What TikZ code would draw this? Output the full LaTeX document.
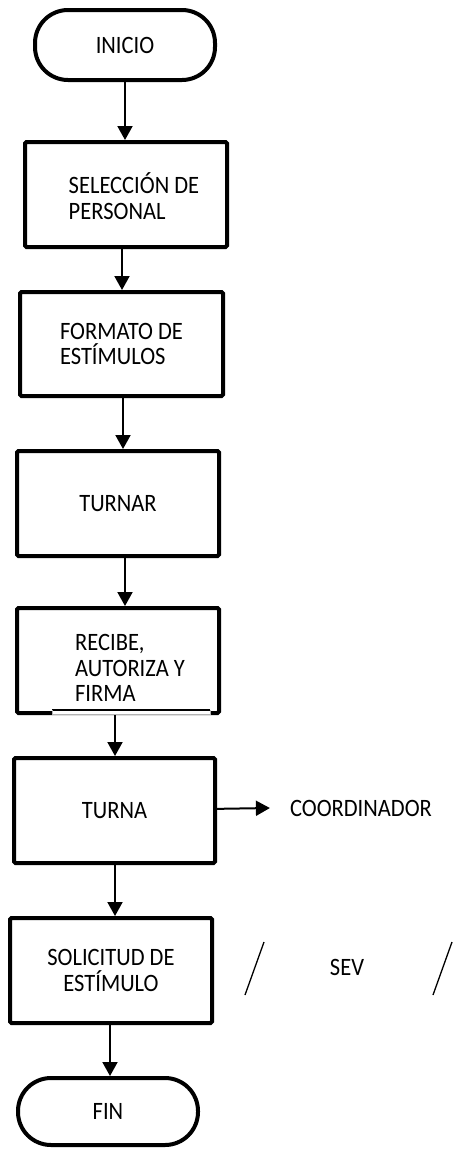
\documentclass[tikz,border=0pt]{standalone}
\usepackage{fontspec}
\setmainfont{Carlito}[FakeStretch=0.9]
\usetikzlibrary{arrows.meta}
\tikzset{
  boxstyle/.style={draw, line width=4pt, rounded corners=1.5pt, inner sep=0pt, align=left,
    font=\fontsize{25}{25.5}\selectfont},
  termstyle/.style={draw, line width=4pt, rounded corners=33pt, inner sep=0pt,
    font=\fontsize{25}{25.5}\selectfont},
  txtstyle/.style={inner sep=0pt, font=\fontsize{25}{25.5}\selectfont, align=left},
  arr/.style={line width=2pt, -{Triangle[length=14pt,width=15pt]}},
  slashstyle/.style={line width=1.3pt}
}
\begin{document}
\begin{tikzpicture}[x=1pt,y=-1pt]
\useasboundingbox (0,0) rectangle (454,1149);
\node[termstyle, minimum width=180pt, minimum height=70pt] (inicio) at (125,45) {INICIO};
\node[boxstyle, minimum width=202pt, minimum height=105pt] (sel) at (126,194.5) {};
\node[txtstyle] (selt) at (134,196) {SELECCIÓN DE\\PERSONAL};
\node[boxstyle, minimum width=203pt, minimum height=104pt] (form) at (121.5,344) {FORMATO DE\\ESTÍMULOS};
\node[boxstyle, minimum width=202pt, minimum height=105pt] (turnar) at (118,503.5) {TURNAR};
\node[boxstyle, minimum width=202pt, minimum height=105pt] (recibe) at (118,660.5) {};
\node[txtstyle] (recibet) at (130,668) {RECIBE,\\AUTORIZA Y\\FIRMA};
\node[boxstyle, minimum width=201pt, minimum height=105pt] (turna) at (114.5,810.5) {TURNA};
\node[txtstyle, inner xsep=20pt] (coord) at (361,808) {COORDINADOR};
\node[boxstyle, minimum width=202pt, minimum height=105pt, align=center] (sol) at (111,970.5) {SOLICITUD DE\\ESTÍMULO};
\node[txtstyle] (sev) at (347,967) {SEV};
\node[termstyle, minimum width=180pt, minimum height=67pt] (fin) at (108,1111.5) {FIN};
% odd bottom edge of RECIBE box
\fill[white] (52,709) rectangle (210,715);
\draw[line width=1.5pt] (52,710) -- (210,710);
\draw[line width=0.5pt, gray!60] (52,710) -- (52,714.5) -- (210,714.5) -- (210,710);
% connectors
\draw[arr] (inicio) -- (inicio |- sel.north);
\draw[arr] (sel.south -| 122,0) -- (form.north -| 122,0);
\draw[arr] (form.south -| 123,0) -- (turnar.north -| 123,0);
\draw[arr] (turnar.south -| 125,0) -- (recibe.north -| 125,0);
\draw[arr] (recibe.south -| 115,0) -- (turna.north -| 115,0);
\draw[arr] (turna) -- (coord.west);
\draw[arr] (turna.south -| 115,0) -- (sol.north -| 115,0);
\draw[arr] (sol.south -| 110,0) -- (fin.north -| 110,0);
% slashes
\draw[slashstyle] (264,942) -- (245,995);
\draw[slashstyle] (452,942) -- (433,995);
\end{tikzpicture}
\end{document}
